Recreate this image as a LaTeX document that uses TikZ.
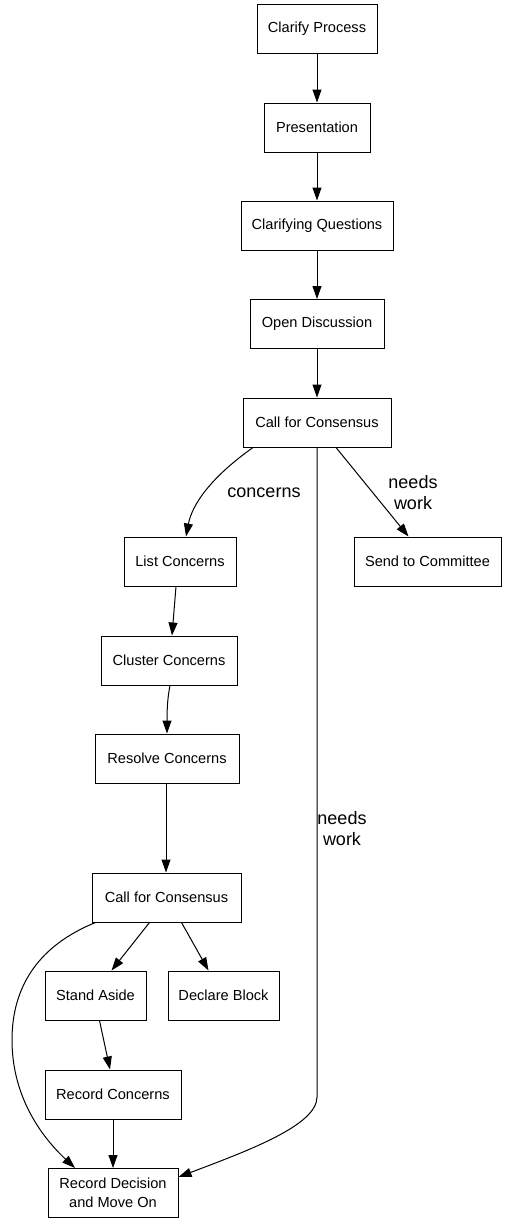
\documentclass[tikz,border=0pt]{standalone}
\usepackage{fontspec}
\setmainfont{Liberation Sans}
\usetikzlibrary{arrows.meta}
\begin{document}
\begin{tikzpicture}[x=1pt,y=-1pt,
  box/.style={draw,line width=1pt,rectangle,inner sep=0pt,minimum height=49pt,font=\fontsize{14.6}{19}\selectfont,align=center},
  edge/.style={line width=1pt,-{Triangle[length=13pt,width=9pt]}},
  lbl/.style={font=\fontsize{18}{21}\selectfont,align=center,inner sep=0pt}]
\useasboundingbox (0,0) rectangle (507,1224);
\fill[white] (0,0) rectangle (507,1224);
\node[box,minimum width=120pt] (cp) at (317,28.5) {Clarify Process};
\node[box,minimum width=106pt] (pr) at (317,127.5) {Presentation};
\node[box,minimum width=152pt] (cq) at (317,225.5) {Clarifying Questions};
\node[box,minimum width=134pt] (od) at (317,324) {Open Discussion};
\node[box,minimum width=148pt] (cfc) at (317,422.5) {Call for Consensus};
\node[box,minimum width=112pt] (lc) at (180,561.5) {List Concerns};
\node[box,minimum width=147pt] (sc) at (427.5,561.5) {Send to Committee};
\node[box,minimum width=136pt] (cc) at (169,660.5) {Cluster Concerns};
\node[box,minimum width=144pt] (rc) at (167,758.5) {Resolve Concerns};
\node[box,minimum width=149pt] (cfc2) at (166.5,897.5) {Call for Consensus};
\node[box,minimum width=101pt] (sa) at (95.5,995.5) {Stand Aside};
\node[box,minimum width=111pt] (db) at (223.5,995.5) {Declare Block};
\node[box,minimum width=136pt] (rcc) at (113,1094.5) {Record Concerns};
\node[box,minimum width=130pt] (rd) at (113,1193) {Record Decision\\and Move On};

\draw[edge] (cp) -- (pr);
\draw[edge] (pr) -- (cq);
\draw[edge] (cq) -- (od);
\draw[edge] (od) -- (cfc);
\draw[edge] ([xshift=-64pt]cfc.south) .. controls (210,478) and (192,505) .. ([xshift=6pt]lc.north);
\draw[edge] ([xshift=19pt]cfc.south) -- ([xshift=-19pt]sc.north);
\draw[edge] (cfc.south) -- (317,1097) .. controls (317,1125) and (250,1150) .. ([yshift=-9pt]rd.north east);
\node[lbl] (l1) at (264,493) {concerns};
\node[lbl] (l2) at (413,493) {needs\\work};
\node[lbl] (l3) at (342,829) {needs\\work};
\draw[edge] ([xshift=-4pt]lc.south) -- ([xshift=3pt]cc.north);
\draw[edge] ([xshift=1pt]cc.south) .. controls (167,700) and (167,715) .. (rc.north);
\draw[edge] ([xshift=-1pt]rc.south) -- ([xshift=-0.5pt]cfc2.north);
\draw[edge] ([xshift=-17pt]cfc2.south) -- ([xshift=16pt]sa.north);
\draw[edge] ([xshift=15pt]cfc2.south) -- ([xshift=-15pt]db.north);
\draw[edge] ([xshift=-71pt]cfc2.south) .. controls (40,945) and (12,985) .. (12,1040) .. controls (12,1100) and (45,1140) .. ([xshift=-38pt]rd.north);
\draw[edge] ([xshift=4pt]sa.south) -- ([xshift=-3pt]rcc.north);
\draw[edge] (rcc) -- (rd);
\end{tikzpicture}
\end{document}
